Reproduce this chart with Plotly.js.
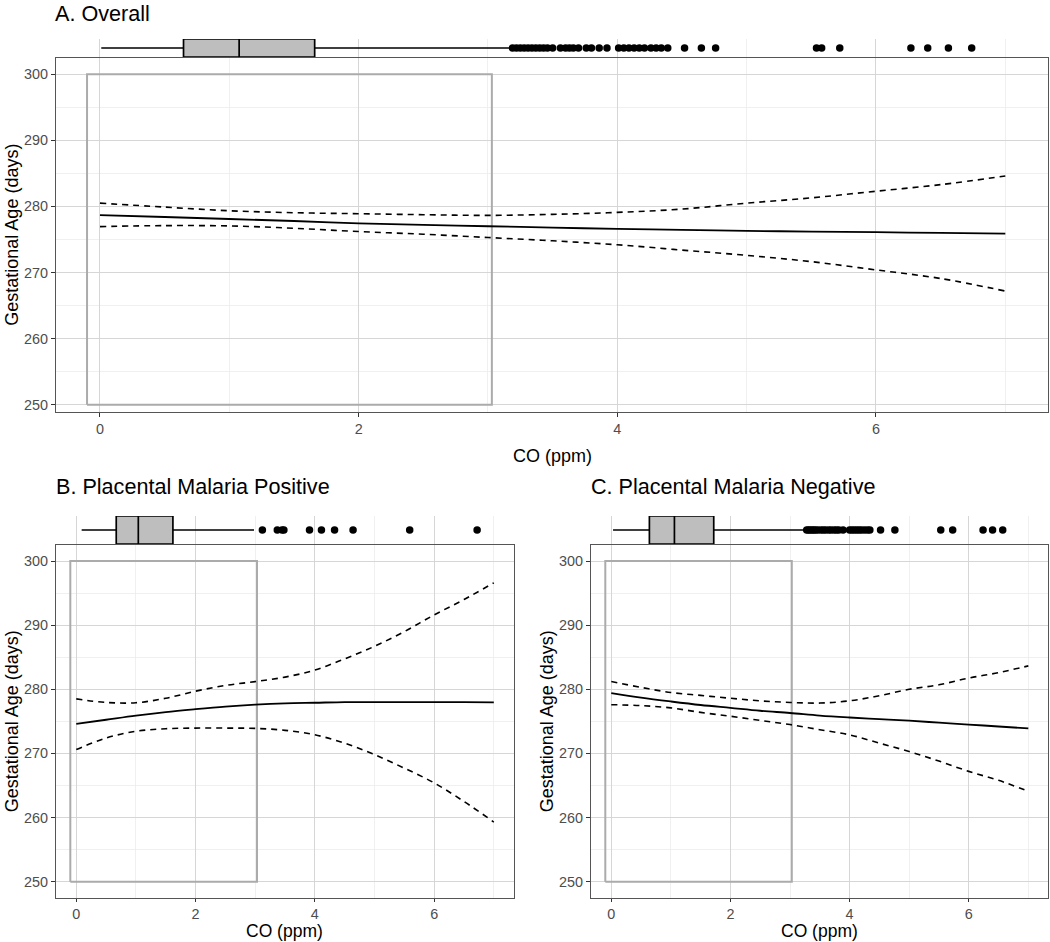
<!DOCTYPE html>
<html>
<head>
<meta charset="utf-8">
<script src="https://cdn.plot.ly/plotly-3.0.1.min.js"></script>
<style>html,body{margin:0;padding:0;background:#fff;}#chart{width:1050px;height:942px;}</style>
</head>
<body>
<div id="chart"></div>
<script>
// ---------- data ----------
const coX = [0, 0.5, 1, 1.5, 2, 2.5, 3, 3.5, 4, 4.5, 5, 5.5, 6, 6.5, 7];

// A. Overall
const aFit   = [278.7, 278.4, 278.1, 277.8, 277.45, 277.2, 277.0, 276.8, 276.6, 276.45, 276.3, 276.2, 276.1, 276.0, 275.9];
const aUpper = [280.5, 279.9, 279.35, 279.05, 278.9, 278.75, 278.65, 278.8, 279.1, 279.6, 280.5, 281.3, 282.3, 283.3, 284.6];
const aLower = [276.95, 277.1, 277.05, 276.7, 276.2, 275.8, 275.3, 274.8, 274.2, 273.4, 272.6, 271.65, 270.4, 269.1, 267.2];

// B. Placental Malaria Positive
const bFit   = [274.6, 275.25, 275.9, 276.45, 276.9, 277.3, 277.6, 277.8, 277.9, 278.0, 278.0, 278.0, 278.0, 278.0, 277.95];
const bUpper = [278.5, 277.95, 277.9, 278.6, 279.7, 280.6, 281.2, 281.9, 283.0, 284.75, 286.7, 289.0, 291.6, 294.0, 296.6];
const bLower = [270.6, 272.4, 273.45, 273.85, 273.95, 273.95, 273.9, 273.6, 272.9, 271.6, 269.8, 267.7, 265.4, 262.5, 259.3];

// C. Placental Malaria Negative
const cFit   = [279.4, 278.7, 278.1, 277.55, 277.1, 276.65, 276.3, 275.9, 275.6, 275.35, 275.1, 274.8, 274.5, 274.2, 273.9];
const cUpper = [281.2, 280.3, 279.5, 279.05, 278.6, 278.2, 277.95, 277.85, 278.2, 279.0, 280.0, 280.7, 281.75, 282.6, 283.65];
const cLower = [277.6, 277.45, 277.1, 276.4, 275.8, 275.15, 274.5, 273.7, 272.9, 271.6, 270.3, 268.8, 267.2, 265.8, 264.1];

// box-plot summaries of CO (ppm): [lower whisker, q1, median, q3, upper whisker]
const aBox = [0.01, 0.646, 1.076, 1.66, 3.17];
const bBox = [0.09, 0.67, 1.04, 1.62, 2.98];
const cBox = [0.03, 0.64, 1.06, 1.72, 3.26];

// outliers of CO (ppm)
const aOut = [3.19, 3.22, 3.25, 3.28, 3.31, 3.34, 3.37, 3.40, 3.43, 3.46, 3.50, 3.56, 3.60, 3.63, 3.66, 3.70,
              3.76, 3.80, 3.86, 3.92, 4.01, 4.05, 4.09, 4.13, 4.17, 4.21, 4.26, 4.30, 4.34, 4.39,
              4.52, 4.65, 4.76, 5.54, 5.58, 5.72, 6.27, 6.40, 6.56, 6.74];
const bOut = [3.12, 3.37, 3.45, 3.48, 3.91, 4.11, 4.33, 4.64, 5.59, 6.72];
const cOut = [3.28, 3.31, 3.34, 3.37, 3.40, 3.43, 3.47, 3.52, 3.56, 3.60, 3.65, 3.69, 3.74, 3.78, 3.82, 3.89,
              4.00, 4.04, 4.08, 4.12, 4.16, 4.20, 4.25, 4.30, 4.34, 4.52, 4.76, 5.53, 5.73, 6.24, 6.40, 6.57];

// highlighted region
const rectX = [-0.1, 3.03];
const rectY = [250, 300];

const panelTitles = ["A. Overall", "B. Placental Malaria Positive", "C. Placental Malaria Negative"];
const xTitle = "CO (ppm)";
const yTitle = "Gestational Age (days)";

// ---------- helpers ----------
const W = 1050, H = 942;
const px = v => v / W;
const py = v => 1 - v / H;
const FONT = "Liberation Sans, Arial, Helvetica, sans-serif";

function panelTraces(xa, ya, yStrip, fit, up, lo, box, out) {
  const t = [];
  t.push({type: 'scatter', mode: 'lines', xaxis: xa, yaxis: ya,
    x: [rectX[0], rectX[1], rectX[1], rectX[0], rectX[0]],
    y: [rectY[0], rectY[0], rectY[1], rectY[1], rectY[0]],
    line: {color: '#ababab', width: 2}, hoverinfo: 'skip'});
  t.push({type: 'scatter', mode: 'lines', xaxis: xa, yaxis: ya, x: coX, y: up,
    line: {color: '#000', width: 1.6, dash: '6px,5px', shape: 'spline'}});
  t.push({type: 'scatter', mode: 'lines', xaxis: xa, yaxis: ya, x: coX, y: lo,
    line: {color: '#000', width: 1.6, dash: '6px,5px', shape: 'spline'}});
  t.push({type: 'scatter', mode: 'lines', xaxis: xa, yaxis: ya, x: coX, y: fit,
    line: {color: '#000', width: 1.8, shape: 'spline'}});
  t.push({type: 'box', orientation: 'h', xaxis: xa, yaxis: yStrip, y: [0],
    lowerfence: [box[0]], q1: [box[1]], median: [box[2]], q3: [box[3]], upperfence: [box[4]],
    boxpoints: false, width: 1, whiskerwidth: 0,
    fillcolor: '#bebebe', line: {color: '#000', width: 1.7}});
  t.push({type: 'scatter', mode: 'markers', xaxis: xa, yaxis: yStrip,
    x: out, y: out.map(() => 0), cliponaxis: false,
    marker: {color: '#000', size: 7.5}});
  return t;
}

const data = [].concat(
  panelTraces('x', 'y', 'y4', aFit, aUpper, aLower, aBox, aOut),
  panelTraces('x2', 'y2', 'y5', bFit, bUpper, bLower, bBox, bOut),
  panelTraces('x3', 'y3', 'y6', cFit, cUpper, cLower, cBox, cOut)
);

function xAxis(dom, anchor, tl) {
  return {domain: dom, anchor: anchor, range: [-0.34, 7.33], tick0: 0, dtick: 2,
    showgrid: true, gridcolor: '#d6d6d6', gridwidth: 1,
    minor: {dtick: 1, showgrid: true, gridcolor: '#ececec', gridwidth: 0.8},
    zeroline: false, showline: true, mirror: true, linecolor: '#555', linewidth: 1.2,
    ticks: 'outside', ticklen: tl, tickcolor: '#333', tickwidth: 1,
    tickfont: {family: FONT, size: 14.4, color: '#4d4d4d'}, automargin: false, fixedrange: true};
}
function yAxis(dom, anchor, range) {
  return {domain: dom, anchor: anchor, range: range, tick0: 250, dtick: 10,
    showgrid: true, gridcolor: '#d6d6d6', gridwidth: 1,
    minor: {dtick: 5, showgrid: true, gridcolor: '#ececec', gridwidth: 0.8},
    zeroline: false, showline: true, mirror: true, linecolor: '#555', linewidth: 1.2,
    ticks: 'outside', ticklen: 4, tickcolor: '#333', tickwidth: 1,
    tickfont: {family: FONT, size: 14.4, color: '#4d4d4d'}, automargin: false, fixedrange: true};
}
function stripAxis(dom, anchor) {
  return {domain: dom, anchor: anchor, range: [-0.5, 0.5], visible: false, fixedrange: true};
}

const topA = 57.7, botA = 411.7, topBC = 545, botBC = 897.7;
const lA = 56, rA = 1048, lB = 56, rB = 513.5, lC = 591, rC = 1048;

const layout = {
  width: W, height: H, margin: {l: 0, r: 0, t: 0, b: 0},
  paper_bgcolor: '#fff', plot_bgcolor: '#fff', showlegend: false,
  font: {family: FONT, color: '#000'},
  xaxis:  xAxis([px(lA), px(rA)], 'y', 4),
  yaxis:  yAxis([py(botA), py(topA)], 'x', [248.95, 302.5]),
  xaxis2: xAxis([px(lB), px(rB)], 'y2', 3),
  yaxis2: yAxis([py(botBC), py(topBC)], 'x2', [247.5, 302.5]),
  xaxis3: xAxis([px(lC), px(rC)], 'y3', 3),
  yaxis3: yAxis([py(botBC), py(topBC)], 'x3', [247.5, 302.5]),
  yaxis4: stripAxis([py(57), py(39)], 'x'),
  yaxis5: stripAxis([py(544), py(516)], 'x2'),
  yaxis6: stripAxis([py(544), py(516)], 'x3'),
  annotations: [
    {text: panelTitles[0], x: px(54), y: py(0), xanchor: 'left', yanchor: 'top', borderpad: 0, font: {size: 21.6}},
    {text: panelTitles[1], x: px(54), y: py(486), xanchor: 'left', yanchor: 'middle', font: {size: 21.6}},
    {text: panelTitles[2], x: px(589), y: py(486), xanchor: 'left', yanchor: 'middle', font: {size: 21.6}},
    {text: xTitle, x: px((lA + rA) / 2), y: py(456), xanchor: 'center', yanchor: 'middle', font: {size: 18}},
    {text: xTitle, x: px((lB + rB) / 2), y: py(942), xanchor: 'center', yanchor: 'bottom', borderpad: 0, font: {size: 17.5}},
    {text: xTitle, x: px((lC + rC) / 2), y: py(942), xanchor: 'center', yanchor: 'bottom', borderpad: 0, font: {size: 17.5}},
    {text: yTitle, x: px(12), y: py((topA + botA) / 2), textangle: -90, xanchor: 'center', yanchor: 'middle', font: {size: 18}},
    {text: yTitle, x: px(12), y: py((topBC + botBC) / 2), textangle: -90, xanchor: 'center', yanchor: 'middle', font: {size: 18}},
    {text: yTitle, x: px(547), y: py((topBC + botBC) / 2), textangle: -90, xanchor: 'center', yanchor: 'middle', font: {size: 18}}
  ].map(a => Object.assign({xref: 'paper', yref: 'paper', showarrow: false}, a))
};

Plotly.newPlot('chart', data, layout, {displayModeBar: false, staticPlot: true});
</script>
</body>
</html>
